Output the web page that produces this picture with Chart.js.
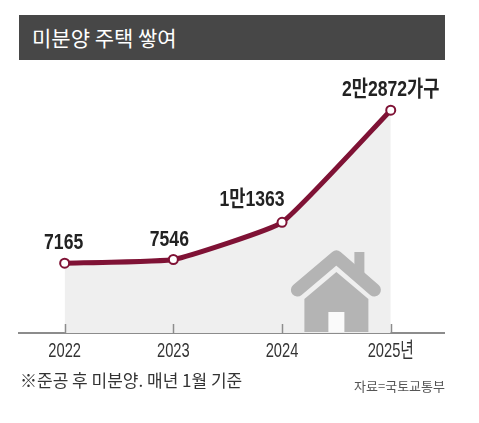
<!DOCTYPE html>
<html>
<head>
<meta charset="utf-8">
<script src="https://cdn.jsdelivr.net/npm/chart.js@4"></script>
<style>
  body { margin: 0; background: #fff; }
  #wrap { position: relative; width: 479px; height: 423px; }
  #my-chart { position: absolute; left: 0; top: 0; }
  .title {
    position: absolute; left: 19px; top: 15px; width: 413px; height: 45px;
    padding-left: 13px; background: #474747; color: #fff;
    font: 21px "Noto Sans CJK KR", sans-serif; line-height: 45px;
  }
  .note {
    position: absolute; left: 20px; top: 370px; color: #333;
    font: 17px "Noto Sans CJK KR", sans-serif; line-height: 20px;
  }
  .source {
    position: absolute; right: 34px; top: 378px; color: #555;
    font: 13px "Noto Sans CJK KR", sans-serif; line-height: 16px;
  }
</style>
</head>
<body>
<div id="wrap">
  <canvas id="my-chart" width="479" height="423"></canvas>
  <div class="title">미분양 주택 쌓여</div>
  <div class="note">※준공 후 미분양. 매년 1월 기준</div>
  <div class="source">자료=국토교통부</div>
</div>
<script>
const years = [2022, 2023, 2024, 2025];
const tickLabels = ['2022', '2023', '2024', '2025년'];
const units = [7165, 7546, 11363, 22872];
const valueLabels = ['7165', '7546', '1만1363', '2만2872가구'];

const lineColor = '#7f1235';
const sans = '"Liberation Sans", "Noto Sans CJK KR", sans-serif';

// condensed text: draw squeezed horizontally around (x, y)
function narrowText(ctx, text, x, y, squeeze) {
  ctx.save();
  ctx.translate(x, y);
  ctx.scale(squeeze, 1);
  ctx.fillText(text, 0, 0);
  ctx.restore();
}

// small ticks standing on the axis line + condensed year labels
const axisTicks = {
  id: 'axisTicks',
  afterDatasetsDraw(chart) {
    const {ctx, scales: {x, y}} = chart;
    const base = y.getPixelForValue(0);
    ctx.save();
    ctx.strokeStyle = '#8c8c8c';
    ctx.lineWidth = 1.5;
    x.ticks.forEach((t, i) => {
      const px = Math.round(x.getPixelForTick(i)) + 0.5;
      ctx.beginPath();
      ctx.moveTo(px, base - 9);
      ctx.lineTo(px, base);
      ctx.stroke();
    });
    ctx.fillStyle = '#333';
    ctx.font = '21px ' + sans;
    ctx.textAlign = 'center';
    ctx.textBaseline = 'middle';
    x.ticks.forEach((t, i) => {
      narrowText(ctx, tickLabels[years.indexOf(t.value)], x.getPixelForTick(i), base + 18, 0.7);
    });
    ctx.restore();
  }
};

// house icon between the last two years
const house = {
  id: 'house',
  afterDatasetsDraw(chart) {
    const {ctx, scales: {x, y}} = chart;
    const cx = (x.getPixelForValue(years[2]) + x.getPixelForValue(years[3])) / 2;
    const by = y.getPixelForValue(0) - 1;
    ctx.save();
    ctx.fillStyle = '#b4b4b4';
    ctx.strokeStyle = '#b4b4b4';
    // chimney
    ctx.fillRect(cx + 18, by - 80, 10, 26);
    // roof
    ctx.lineWidth = 13;
    ctx.lineCap = 'round';
    ctx.lineJoin = 'round';
    ctx.beginPath();
    ctx.moveTo(cx - 39, by - 42);
    ctx.lineTo(cx, by - 75);
    ctx.lineTo(cx + 38, by - 42);
    ctx.stroke();
    // body
    ctx.beginPath();
    ctx.moveTo(cx, by - 60);
    ctx.lineTo(cx + 32, by - 33);
    ctx.lineTo(cx + 32, by);
    ctx.lineTo(cx - 32, by);
    ctx.lineTo(cx - 32, by - 33);
    ctx.closePath();
    ctx.fill();
    // door
    ctx.fillStyle = '#fafafa';
    ctx.fillRect(cx - 8, by - 20, 16, 20);
    ctx.restore();
  }
};

// value labels above the points
const pointLabels = {
  id: 'pointLabels',
  afterDatasetsDraw(chart) {
    const {ctx} = chart;
    const pts = chart.getDatasetMeta(0).data;
    const shift = [[-1, -20], [-4, -20], [-30, -22], [0, -20]];
    ctx.save();
    ctx.fillStyle = '#222';
    ctx.font = 'bold 22px ' + sans;
    ctx.textAlign = 'center';
    ctx.textBaseline = 'middle';
    pts.forEach((p, i) => {
      narrowText(ctx, valueLabels[i], p.x + shift[i][0], p.y + shift[i][1], 0.8);
    });
    ctx.restore();
  }
};

const ctx = document.getElementById('my-chart').getContext('2d');
new Chart(ctx, {
  type: 'line',
  data: {
    datasets: [{
      data: years.map((yr, i) => ({x: yr, y: units[i]})),
      borderColor: lineColor,
      borderWidth: 5,
      tension: 0.12,
      fill: 'origin',
      backgroundColor: '#efefef',
      pointRadius: 4.5,
      pointBorderWidth: 2,
      pointBackgroundColor: '#fff',
      pointBorderColor: lineColor,
    }]
  },
  plugins: [house, axisTicks, pointLabels],
  options: {
    responsive: false,
    animation: false,
    layout: { padding: { top: 70, left: 19, right: 35, bottom: 60 } },
    plugins: {
      legend: { display: false },
      tooltip: { enabled: false },
    },
    scales: {
      y: {
        display: false,
        min: 0,
        max: 27000,
      },
      x: {
        type: 'linear',
        min: 2021.58,
        max: 2025.49,
        afterBuildTicks: scale => { scale.ticks = years.map(v => ({value: v})); },
        afterFit: scale => { scale.height = 30; },
        grid: { drawOnChartArea: false, drawTicks: false },
        border: { color: '#8c8c8c', width: 2 },
        ticks: { display: false }
      }
    }
  }
});
</script>
</body>
</html>
